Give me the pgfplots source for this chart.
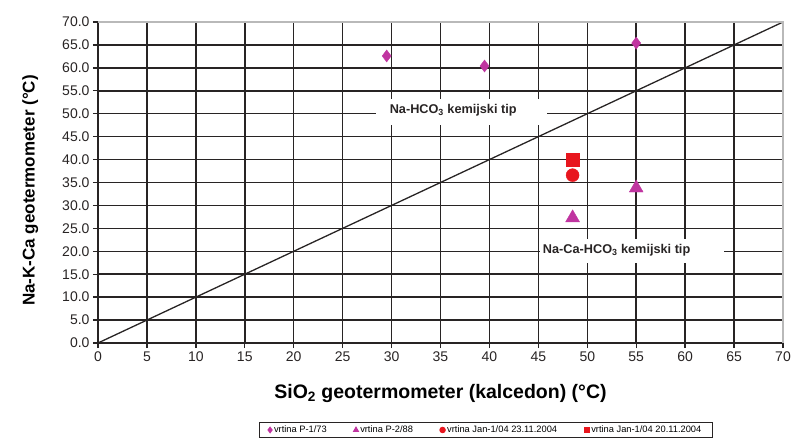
\documentclass[border=0pt]{standalone}
\usepackage{fontspec}
\setmainfont{Liberation Sans}
\usepackage{pgfplots}
\pgfplotsset{compat=1.18}
\definecolor{mag}{RGB}{192,52,160}
\definecolor{rd}{RGB}{232,22,30}
\definecolor{grd}{RGB}{40,36,36}
\begin{document}
\begin{tikzpicture}
\useasboundingbox (-98pt,-96pt) rectangle (693pt,343pt);
\begin{axis}[
  scale only axis, width=685pt, height=321pt,
  xmin=0, xmax=70, ymin=0, ymax=70,
  xtick={0,5,...,65}, ytick={0,5,...,65},
  extra x ticks={70}, extra y ticks={70},
  extra x tick style={grid=none}, extra y tick style={grid=none},
  grid=major, grid style={grd, line width=1.5pt},
  axis x line*=bottom, axis y line*=left,
  axis line style={grd, line width=1.5pt, -},
  tick align=outside, major tick length=5pt, tick style={grd, line width=1.3pt},
  /pgf/number format/assume math mode=true,
  y tick label style={/pgf/number format/.cd, fixed, fixed zerofill, precision=1},
  tick label style={font=\fontsize{14}{14}\selectfont, text=grd},
  xlabel={\textbf{SiO\textsubscript{2} geotermometer (kalcedon) (°C)}},
  xlabel style={at={(axis description cs:0.5,-0.156)}, anchor=center, font=\fontsize{19.5}{20}\selectfont},
  ylabel={\textbf{Na-K-Ca geotermometer (°C)}},
  ylabel style={at={(axis description cs:-0.099,0.475)}, anchor=center, font=\fontsize{17}{17}\selectfont},
  clip=false,
  legend columns=4,
  legend style={at={(axis description cs:0.566,-0.271)}, anchor=center,
    draw=grd, line width=1.2pt, font=\fontsize{9.3}{10}\selectfont, inner xsep=9pt, inner ysep=1.5pt},
  legend image post style={mark size=2.6pt},
]
\addplot[only marks, mark=diamond*, mark size=6pt, color=mag] coordinates {(29.5,62.6) (39.5,60.4) (55,65.4)};
\addlegendentry{vrtina P-1/73\rule{25pt}{0pt}}
\addplot[only marks, mark=triangle*, mark size=8pt, color=mag] coordinates {(48.5,27.3) (55,33.8)};
\addlegendentry{vrtina P-2/88\rule{25pt}{0pt}}
\addplot[only marks, mark=*, mark size=6.5pt, color=rd] coordinates {(48.5,36.6)};
\addlegendentry{vrtina Jan-1/04 23.11.2004\rule{25pt}{0pt}}
\addplot[only marks, mark=square*, mark size=6.5pt, color=rd] coordinates {(48.5,40.0)};
\addlegendentry{vrtina Jan-1/04 20.11.2004}
\addplot[grd, line width=1.3pt, forget plot] coordinates {(0,0) (70,70)};
\draw[gray!55, line width=1.3pt] (rel axis cs:0,1) -- (rel axis cs:1,1) -- (rel axis cs:1,0);
\fill[white] (axis cs:28.4,47.5) rectangle (axis cs:45.9,53.3);
\node[font=\fontsize{12.7}{13}\selectfont\bfseries, text=grd] at (axis cs:36.3,50.7) {Na-HCO\textsubscript{3} kemijski tip};
\fill[white] (axis cs:45.2,17.4) rectangle (axis cs:64,22.6);
\node[font=\fontsize{12.7}{13}\selectfont\bfseries, text=grd] at (axis cs:53.0,20.3) {Na-Ca-HCO\textsubscript{3} kemijski tip};
\end{axis}
\end{tikzpicture}
\end{document}
